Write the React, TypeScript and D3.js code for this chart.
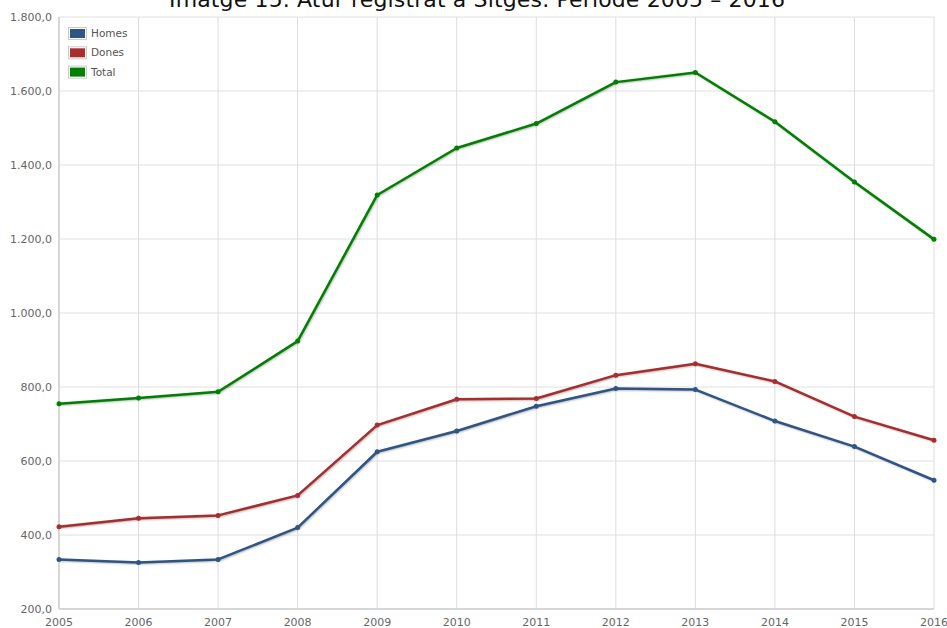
import React, { useEffect, useRef } from 'react';
import * as d3 from 'd3';

const title = 'Imatge 15. Atur registrat a Sitges. Període 2005 – 2016';
const years = ['2005', '2006', '2007', '2008', '2009', '2010', '2011', '2012', '2013', '2014', '2015', '2016'];
const homes = [334, 326, 334, 420, 625, 681, 748, 796, 793, 708, 639, 548];
const dones = [422, 445, 453, 507, 697, 767, 769, 832, 863, 815, 720, 656];
const total = [755, 770, 787, 924, 1319, 1446, 1512, 1624, 1650, 1517, 1354, 1199];
const yTicks = [200, 400, 600, 800, 1000, 1200, 1400, 1600, 1800];
const seriesNames = ['Homes', 'Dones', 'Total'];
const seriesColors = ['#2f5584', '#a82d2d', '#008000'];

const W = 947;
const H = 628;

const App: React.FC = () => {
  const svgRef = useRef<SVGSVGElement>(null);

  useEffect(() => {
    if (!svgRef.current) return;
    const svg = d3.select(svgRef.current);
    svg.selectAll('*').remove();

    const font = '"DejaVu Sans", Verdana, sans-serif';
    const margin = { top: 17, right: 13, bottom: 19, left: 59 };

    const x = d3.scalePoint<string>().domain(years).range([margin.left, W - margin.right]);
    const y = d3.scaleLinear().domain([200, 1800]).range([H - margin.bottom, margin.top]);

    const locale = d3.formatLocale({ decimal: ',', thousands: '.', grouping: [3], currency: ['', '€'] });
    const fmt = locale.format(',.1f');

    svg.append('rect').attr('width', W).attr('height', H).attr('fill', '#fff');

    // Title (clipped at the top, as in the source image)
    svg
      .append('text')
      .attr('x', 477)
      .attr('y', 7)
      .attr('text-anchor', 'middle')
      .attr('font-family', font)
      .attr('font-size', 22)
      .attr('textLength', 616)
      .attr('fill', '#111')
      .text(title);

    const grid = svg.append('g');

    // Horizontal grid
    grid
      .selectAll('line.h')
      .data(yTicks)
      .join('line')
      .attr('x1', margin.left)
      .attr('x2', W - margin.right)
      .attr('y1', d => y(d))
      .attr('y2', d => y(d))
      .attr('stroke', '#e0e0e0')
      .attr('stroke-width', 1);

    // Vertical grid
    grid
      .selectAll('line.v')
      .data(years)
      .join('line')
      .attr('x1', d => x(d)!)
      .attr('x2', d => x(d)!)
      .attr('y1', margin.top)
      .attr('y2', H - margin.bottom)
      .attr('stroke', '#dcdcdc')
      .attr('stroke-width', 1);

    // Axis lines
    svg
      .append('line')
      .attr('x1', margin.left)
      .attr('x2', margin.left)
      .attr('y1', margin.top)
      .attr('y2', H - margin.bottom)
      .attr('stroke', '#d6d6d6')
      .attr('stroke-width', 2);
    svg
      .append('line')
      .attr('x1', margin.left)
      .attr('x2', W - margin.right)
      .attr('y1', H - margin.bottom)
      .attr('y2', H - margin.bottom)
      .attr('stroke', '#d6d6d6')
      .attr('stroke-width', 2);

    // Y labels
    svg
      .append('g')
      .selectAll('text')
      .data(yTicks)
      .join('text')
      .attr('x', 52)
      .attr('y', d => y(d) + 4)
      .attr('text-anchor', 'end')
      .attr('font-family', font)
      .attr('font-size', 11)
      .attr('fill', '#666')
      .text(d => fmt(d));

    // X labels
    svg
      .append('g')
      .selectAll('text')
      .data(years)
      .join('text')
      .attr('x', d => x(d)!)
      .attr('y', 626)
      .attr('text-anchor', 'middle')
      .attr('font-family', font)
      .attr('font-size', 11)
      .attr('fill', '#666')
      .text(d => d);

    const series = [homes, dones, total];
    const line = d3
      .line<number>()
      .x((_, i) => x(years[i])!)
      .y(d => y(d));

    series.forEach((values, si) => {
      const g = svg.append('g');
      // Shadow
      [
        { w: 5, o: 0.05 },
        { w: 3, o: 0.1 },
        { w: 1, o: 0.15 }
      ].forEach(s => {
        g.append('path')
          .datum(values)
          .attr('d', line)
          .attr('fill', 'none')
          .attr('stroke', '#000')
          .attr('stroke-opacity', s.o)
          .attr('stroke-width', s.w)
          .attr('transform', 'translate(1,1)');
      });
      g.append('path')
        .datum(values)
        .attr('d', line)
        .attr('fill', 'none')
        .attr('stroke', seriesColors[si])
        .attr('stroke-width', 2.5)
        .attr('stroke-linejoin', 'round');
      g.selectAll('circle')
        .data(values)
        .join('circle')
        .attr('cx', (_, i) => x(years[i])!)
        .attr('cy', d => y(d))
        .attr('r', 2.5)
        .attr('fill', seriesColors[si]);
    });

    // Legend
    const legend = svg.append('g').attr('transform', 'translate(68,27)');
    seriesNames.forEach((name, i) => {
      const row = legend.append('g').attr('transform', `translate(0,${i * 19.3})`);
      row
        .append('rect')
        .attr('x', 0.5)
        .attr('y', 0.5)
        .attr('width', 18)
        .attr('height', 12)
        .attr('fill', '#fff')
        .attr('stroke', '#ccc');
      row
        .append('rect')
        .attr('x', 2)
        .attr('y', 2)
        .attr('width', 15)
        .attr('height', 9)
        .attr('fill', seriesColors[i]);
      row
        .append('text')
        .attr('x', 23)
        .attr('y', 10)
        .attr('font-family', font)
        .attr('font-size', 10.5)
        .attr('fill', '#555')
        .text(name);
    });
  }, []);

  return (
    <div style={{ position: 'absolute', left: 0, top: 0 }}>
      <svg ref={svgRef} width={W} height={H} style={{ display: 'block' }} />
    </div>
  );
};

export default App;
